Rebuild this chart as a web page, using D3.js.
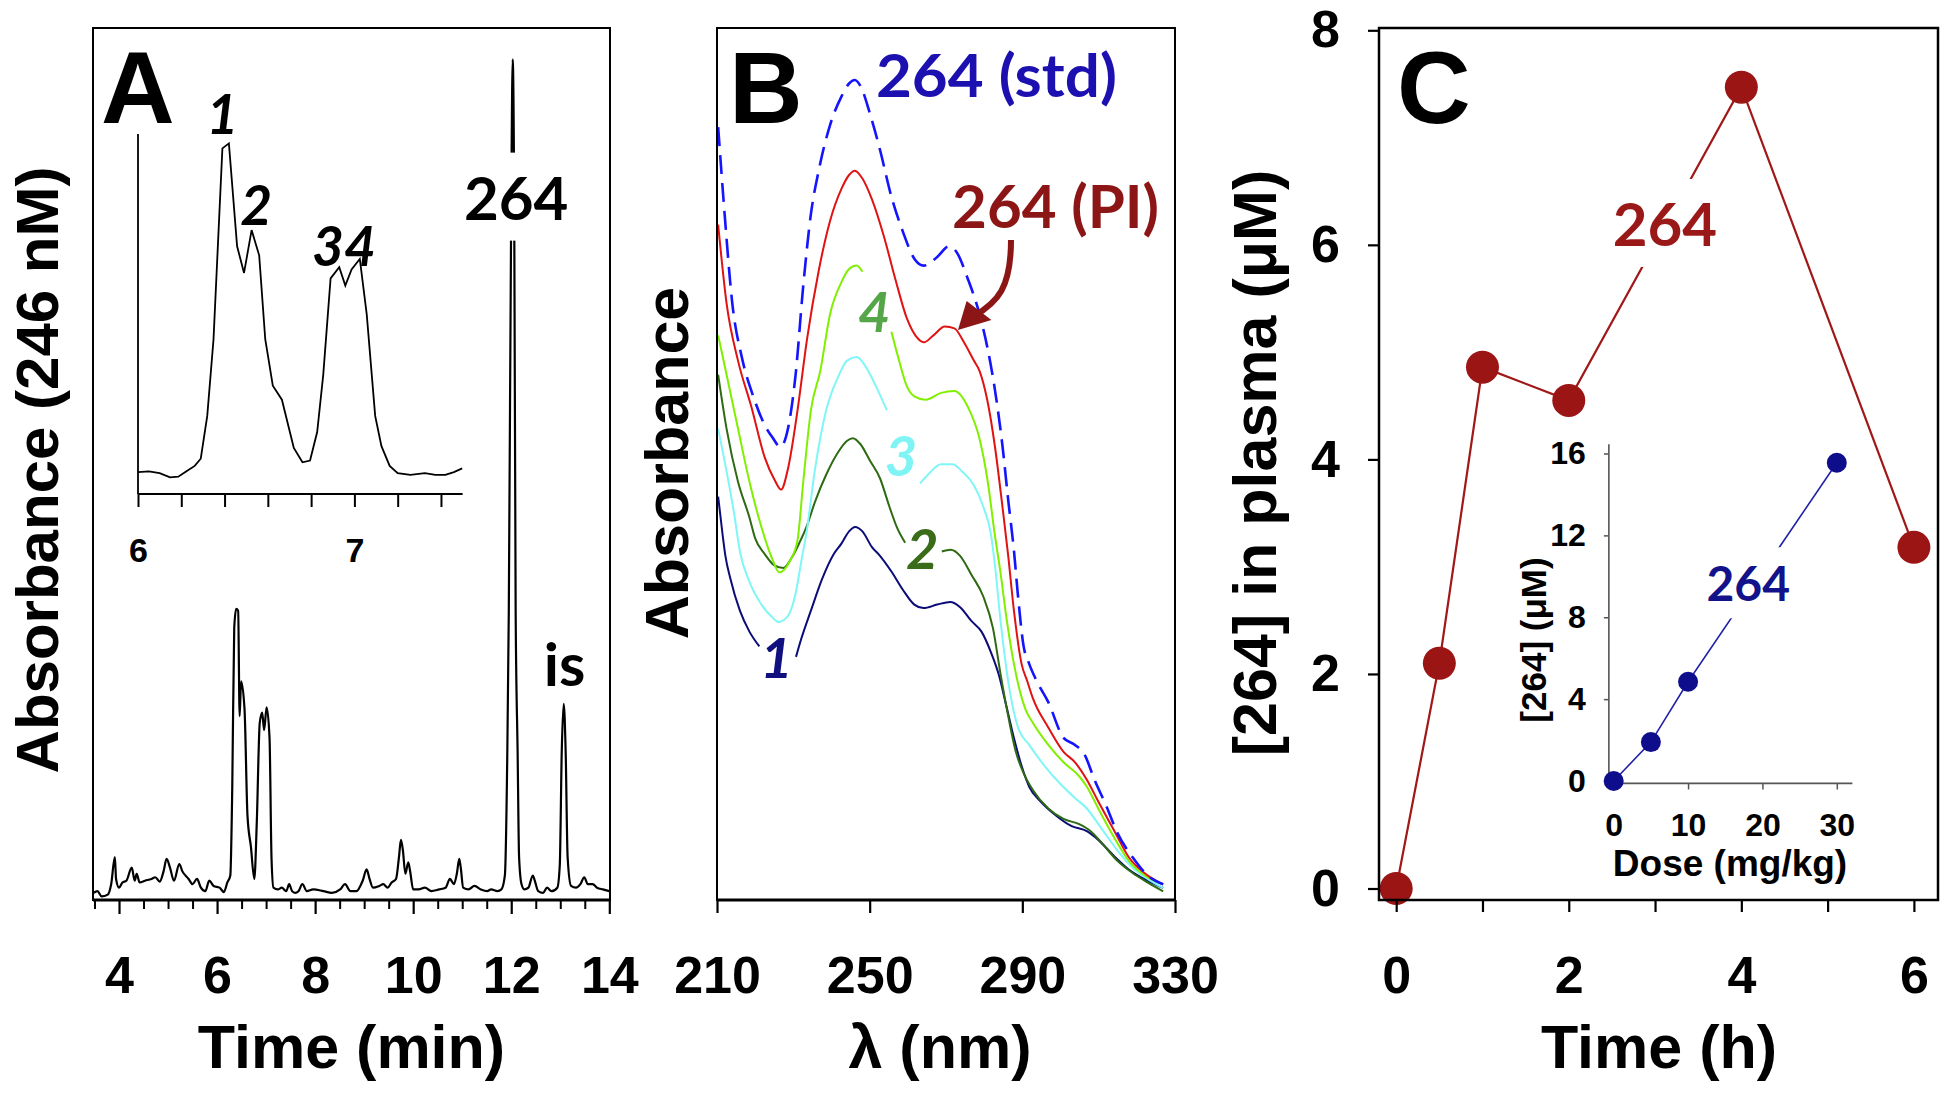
<!DOCTYPE html>
<html><head><meta charset="utf-8">
<script src="https://cdn.jsdelivr.net/npm/d3@7"></script>
<style>
body{margin:0;background:#fff}
svg{display:block}
text{font-family:"Liberation Sans",Arial,sans-serif;font-weight:bold}
.lbl{font-family:Lato,"Open Sans",sans-serif;font-weight:bold}
</style>
</head><body>
<svg id="fig" width="1950" height="1093"></svg>
<script>
// ================= DATA =================
// Panel A: HPLC chromatogram (time in min, relative absorbance)
const chromTime = [3.48,3.56,3.645,3.77,3.84,3.915,3.94,4.0,4.07,4.15,4.26,4.32,4.36,4.42,4.53,4.66,4.74,4.83,4.91,4.97,5.04,5.12,5.23,5.29,5.42,5.5,5.59,5.67,5.76,5.84,5.93,6.05,6.14,6.21,6.27,6.31,6.35,6.39,6.43,6.46,6.49,6.56,6.62,6.69,6.76,6.81,6.87,6.92,6.96,7.01,7.07,7.11,7.15,7.24,7.32,7.41,7.47,7.53,7.59,7.66,7.74,7.83,7.96,8.17,8.34,8.51,8.61,8.72,8.84,8.97,9.05,9.11,9.18,9.31,9.39,9.48,9.56,9.65,9.71,9.75,9.79,9.84,9.9,9.94,10.0,10.11,10.24,10.37,10.53,10.66,10.75,10.83,10.89,10.94,10.97,11.02,11.13,11.25,11.38,11.51,11.59,11.72,11.8,11.87,11.92,11.95,12.0,12.03,12.06,12.09,12.13,12.16,12.21,12.27,12.35,12.44,12.48,12.55,12.65,12.73,12.82,12.94,12.99,13.03,13.07,13.11,13.15,13.22,13.32,13.41,13.49,13.56,13.66,13.75,13.87,14.0];
const chromAbs  = [0.7,0.9,0.3,0.5,1.7,4.8,2.3,1.3,1.9,2.1,3.6,2.1,2.9,1.9,2.1,2.3,2.5,2.0,3.2,4.6,3.6,2.1,4.0,3.2,2.3,1.7,2.3,1.3,0.9,2.1,1.5,1.3,0.8,1.9,2.7,12.9,31.1,33.3,33.1,21.0,25.0,21.8,9.6,6.0,2.3,8.8,20.2,21.4,19.4,22.0,18.5,4.8,1.3,1.1,1.3,0.9,1.7,0.9,0.7,0.9,1.7,0.9,1.1,0.9,0.7,1.1,1.7,0.9,0.9,2.1,3.4,2.3,1.3,1.5,1.7,1.3,1.9,2.3,4.8,6.8,5.6,2.9,4.2,3.1,1.1,1.1,1.3,0.9,1.1,1.3,2.3,1.7,2.9,4.6,3.6,1.3,1.1,1.5,1.1,0.9,1.1,0.9,1.1,2.7,16.9,33,80,96.4,80,33,16.9,4.8,1.7,1.1,1.3,2.7,2.1,0.9,0.7,1.3,0.9,1.3,3.9,16.9,22.4,16.9,4.8,1.5,1.3,1.7,2.5,1.7,1.7,1.3,1.1,0.9];
const timeTicksA = [4,6,8,10,12,14];
// Panel A inset: zoom of 6-7.5 min
const insetTime = [6.0,6.05,6.1,6.148,6.186,6.224,6.262,6.29,6.32,6.349,6.39,6.42,6.458,6.49,6.525,6.56,6.588,6.623,6.665,6.72,6.76,6.795,6.828,6.856,6.89,6.93,6.958,6.987,7.025,7.057,7.096,7.125,7.163,7.2,7.259,7.326,7.374,7.42,7.46,7.498];
const insetAbs  = [6.1,6.3,5.8,4.6,4.8,6.3,7.8,9.8,21.7,43,96,97.4,68.8,61.4,73.3,66.3,43,30.1,26.2,12.8,8.8,9.3,17.2,33.1,59.9,63,57.9,62.4,65.3,49.9,21.7,13.3,7.8,5.8,5.3,5.8,5.3,5.3,6.1,7.1];
const insetTickLabels = [6,7];
const peakLabelsA = [{t:"1",x:6.39,y:100},{t:"2",x:6.546,y:74.7},{t:"34",x:6.952,y:63.3}];

// Panel B: UV spectra (wavelength nm, relative absorbance); null = gap for label
const specStd = [[210.3,88.7],[212,78.7],[214,68.5],[216.5,62.3],[219.5,57.8],[222.5,54.5],[224.5,53.1],[226.6,52.0],[228.6,54.1],[230.6,60.3],[232.6,70.5],[234.6,78.7],[236.6,83.6],[239.6,88.9],[242.6,92.2],[244.6,93.7],[246.1,94.1],[247.6,93.4],[250.1,90.2],[252.7,86.1],[255.7,80.7],[258.7,76.7],[261.7,73.6],[264.2,72.8],[267.7,73.8],[270.7,75.0],[272.7,74.4],[275.7,71.3],[278.8,67.2],[280.8,63.5],[282.8,58.6],[284.8,52.1],[286.3,45.9],[287.8,40.1],[288.8,35.2],[290.3,29.2],[291.8,27.1],[293.8,25.1],[296.8,22.7],[300.8,18.6],[303.8,17.8],[306.4,16.6],[308.9,13.8],[311.9,10.9],[314.9,7.7],[318.9,4.9],[322.9,2.8],[326.9,1.8]];
const specPlasma = [[210.3,77.5],[212.5,68.5],[215.5,61.9],[219,56.6],[222.5,50.8],[225.1,48.2],[226.8,47.1],[228.6,49.5],[231.1,56.2],[233.6,64.4],[236.6,72.1],[239.6,77.9],[242.6,81.6],[244.6,83.2],[246.1,83.7],[248.1,82.8],[250.6,80.4],[253.7,76.2],[256.7,71.3],[259.7,66.8],[262.7,64.4],[264.2,64.0],[266.7,64.8],[269.7,65.8],[272.2,65.6],[274.7,64.0],[277.3,61.9],[278.8,60.7],[280.8,57.4],[282.8,52.1],[284.8,45.1],[286.3,39.5],[287.8,33.2],[289.8,27.1],[291.3,25.1],[292.8,23.1],[296.8,19.8],[300.8,17.0],[303.8,15.8],[306.9,13.8],[309.9,11.3],[313.9,8.1],[317.9,4.9],[322.9,2.8],[326.9,1.8]];
const spec4 = [[210.3,64.8],[212.5,60.3],[215.5,54.1],[218.5,48.0],[221.5,43.0],[224.6,39.0],[226.3,37.6],[229.1,38.9],[231.1,41.3],[232.6,48.0],[234.6,56.2],[237.1,60.8],[239.6,67.2],[242.6,70.9],[244.6,72.4],[246.6,72.8],[248.1,72.1],null,[255.7,65.2],[257.7,61.9],[259.7,59.0],[261.7,57.8],[264.7,57.4],[268.7,58.2],[272.2,58.4],[275.7,56.6],[278.8,52.9],[280.8,48.4],[282.8,41.9],[284.3,37.5],[285.8,32.5],[287.8,27.1],[290.8,21.9],[292.8,20.3],[296.8,17.8],[300.8,15.8],[304.9,14.2],[306.9,13.0],[309.9,10.5],[313.9,7.3],[317.9,4.5],[322.9,2.6],[326.9,1.8]];
const spec3 = [[210.3,54.1],[212.5,49.2],[214.5,44.3],[216,40.0],[218.5,36.5],[221.5,34.0],[224.6,32.4],[226.1,31.9],[228.6,32.6],[230.6,35.2],[232.1,38.9],[233.6,42.6],[235.6,49.2],[238.6,56.2],[241.6,59.9],[244.1,61.9],[246.6,62.3],[249.1,61.1],[251.6,59.0],[254.5,56.2],null,[263.2,47.8],[265.7,49.0],[268.7,50.0],[271.7,50.0],[274.2,49.2],[277.3,47.6],[279.8,45.1],[281.8,41.9],[282.8,38.5],[284.3,32.0],[286.3,25.1],[288.8,19.9],[291.8,17.8],[295.8,15.4],[299.8,13.4],[303.8,11.7],[306.9,10.5],[310.9,8.1],[314.9,5.7],[318.9,3.7],[322.9,2.4],[326.9,1.4]];
const spec2 = [[210.3,60.3],[212.5,54.1],[215.5,48.0],[218.5,43.9],[220,41.5],[222.5,39.7],[225,38.4],[227.4,38.1],[229.6,39.3],[231.6,41.0],[233.6,43.0],[235.6,45.6],[238.6,48.8],[241.6,51.3],[244.1,52.7],[245.6,53.0],[247.6,52.3],[250.1,50.4],[252.7,48.4],[255.2,45.1],[257.2,42.7],[259.3,41.0],null,[268.9,40.0],[271.2,40.2],[273.7,39.5],[276.7,37.3],[279.8,34.8],[282.3,31.2],[284.3,25.9],[286.3,21.1],[288.3,17.0],[290.3,14.6],[292.8,12.6],[296.8,10.5],[300.8,9.3],[304.9,8.7],[307.9,7.9],[310.9,6.5],[314.9,4.5],[318.9,3.1],[322.9,2.0],[326.9,1.0]];
const spec1 = [[210.3,46.3],[211.5,41.8],[212.2,39.5],[213.5,36.9],[216,33.2],[218.5,30.8],[221.1,29.1],null,[230.7,27.9],[232.1,30.0],[234.6,33.2],[237.6,36.9],[240.6,39.7],[242.6,40.9],[244.6,42.3],[246.2,42.8],[248.1,42.3],[250.6,40.5],[252.7,39.5],[255.7,37.7],[258.7,35.6],[261.7,33.9],[264.1,33.5],[267.7,33.9],[271.1,34.2],[273.7,33.6],[276.7,32.0],[279.3,30.8],[281.8,28.4],[283.8,25.9],[285.8,22.3],[287.8,18.6],[289.8,15.4],[291.8,13.0],[294.8,11.3],[298.8,9.7],[302.8,8.5],[306.9,7.9],[309.9,6.9],[313.9,5.1],[317.9,3.5],[322.9,2.2],[326.9,1.4]];
const wavelengthTicks = [210,250,290,330];
const specLabels = [
  {t:"4",x:251.2,y:65.2,c:"#55a648"},
  {t:"3",x:258.2,y:48.7,c:"#80f4f4"},
  {t:"2",x:263.8,y:38.0,c:"#3a6c1a"},
  {t:"1",x:225.6,y:25.5,c:"#10107e"}];
const arrowPath = [[287.03,75.74],[287.03,70.2],[283.5,68.6],[277.3,67.0]];
const arrowHead = [[273.14,65.41],[275.4,68.75],[281.9,66.55]];

// Panel C: plasma concentration vs time
const pkTime = [0,0.5,1,2,4,6];
const pkConc = [0,2.1,4.86,4.55,7.47,3.18];
const pkTicksY = [0,2,4,6,8];
const pkTicksX = [0,1,2,3,4,5,6];
// Panel C inset: concentration vs dose
const doses = [0,5,10,30];
const doseConc = [0,1.9,4.85,15.55];
const doseTicks = [0,10,20,30];
const doseConcTicks = [0,4,8,12,16];

// ================= DRAW =================
const svg = d3.select("#fig");
const FB = '"Liberation Sans",Arial,sans-serif';

function styleAxis(g, size, color, width){
  g.selectAll("text").attr("font-size", size).attr("font-family", FB).attr("font-weight","bold").attr("fill","#000");
  g.selectAll(".tick line").attr("stroke", color||"#000").attr("stroke-width", width||2);
  g.select(".domain").remove();
}
function maskedLabel(g, x, y, txt, opts){
  const r = g.append("rect").attr("fill","#fff");
  const t = g.append("text").attr("class","lbl").attr("x",x).attr("y",y)
    .attr("text-anchor", opts.anchor||"middle").attr("font-size",opts.size)
    .attr("fill",opts.color||"#000").text(txt);
  if(opts.italic) t.attr("font-style","italic");
  const b = t.node().getBBox();
  const p = opts.pad||0;
  r.attr("x",b.x-(opts.padx||0)).attr("y",b.y-p).attr("width",b.width+2*(opts.padx||0)).attr("height",b.height+2*p);
  return t;
}

// ---------- Panel A ----------
const A = {left:93,right:610,top:28,bottom:900};
const xA = d3.scaleLinear().domain([3.5,14]).range([94.5,609.3]);
const yA = d3.scaleLinear().domain([0,100]).range([899,28]);
const gA = svg.append("g");
gA.append("path").datum(d3.zip(chromTime, chromAbs))
  .attr("fill","none").attr("stroke","#000").attr("stroke-width",2.2)
  .attr("d", d3.line().x(d=>xA(d[0])).y(d=>yA(d[1])).curve(d3.curveMonotoneX));
maskedLabel(gA, xA(12.1), yA(78), "264", {size:60, pad:8});
gA.append("text").attr("class","lbl").attr("x",xA(13.09)).attr("y",yA(24.5))
  .attr("text-anchor","middle").attr("font-size",60).text("is");
gA.append("rect").attr("x",A.left).attr("y",A.top).attr("width",A.right-A.left).attr("height",A.bottom-A.top)
  .attr("fill","none").attr("stroke","#000").attr("stroke-width",2);
gA.append("line").attr("x1",A.left).attr("x2",A.right).attr("y1",A.bottom).attr("y2",A.bottom).attr("stroke","#000").attr("stroke-width",3);
const axAminor = gA.append("g").attr("transform",`translate(0,${A.bottom})`)
  .call(d3.axisBottom(xA).tickValues(d3.range(3.5,14.01,0.5).filter(v=>v%2!==0)).tickSize(9).tickSizeOuter(0).tickFormat(""));
styleAxis(axAminor,0,"#000",2);
const axA = gA.append("g").attr("transform",`translate(0,${A.bottom})`)
  .call(d3.axisBottom(xA).tickValues(timeTicksA).tickSize(14).tickSizeOuter(0).tickPadding(42));
styleAxis(axA,52,"#000",2.2);
gA.append("text").attr("x",(A.left+A.right)/2).attr("y",1068).attr("text-anchor","middle").attr("font-size",61).text("Time (min)");
gA.append("text").attr("transform","translate(58,470) rotate(-90)").attr("text-anchor","middle").attr("font-size",60).text("Absorbance (246 nM)");
gA.append("text").attr("x",101).attr("y",123).attr("font-size",102).text("A");

// Panel A inset
const xAi = d3.scaleLinear().domain([6,7.5]).range([138,462.6]);
const yAi = d3.scaleLinear().domain([0,100]).range([494,134]);
const gAi = gA.append("g");
gAi.append("path").datum(d3.zip(insetTime, insetAbs))
  .attr("fill","none").attr("stroke","#000").attr("stroke-width",1.8)
  .attr("d", d3.line().x(d=>xAi(d[0])).y(d=>yAi(d[1])));
gAi.append("line").attr("x1",xAi(6)).attr("x2",xAi(6)).attr("y1",yAi(0)).attr("y2",yAi(100)).attr("stroke","#000").attr("stroke-width",1.8);
gAi.append("line").attr("x1",xAi(6)).attr("x2",xAi(7.5)).attr("y1",yAi(0)).attr("y2",yAi(0)).attr("stroke","#000").attr("stroke-width",2);
const axAi = gAi.append("g").attr("transform",`translate(0,${yAi(0)})`)
  .call(d3.axisBottom(xAi).tickValues(d3.range(6,7.41,0.2)).tickSize(13).tickSizeOuter(0).tickPadding(31)
    .tickFormat(d => insetTickLabels.some(v=>Math.abs(v-d)<1e-6) ? d3.format("d")(d) : ""));
styleAxis(axAi,34,"#000",2);
peakLabelsA.forEach(p=>{
  gAi.append("text").attr("class","lbl").attr("font-style","italic").attr("x",xAi(p.x)).attr("y",yAi(p.y))
    .attr("text-anchor","middle").attr("font-size",55).text(p.t);
});

// ---------- Panel B ----------
const B = {left:717,right:1175,top:28,bottom:900};
const xB = d3.scaleLinear().domain([210,330]).range([B.left,B.right]);
const yB = d3.scaleLinear().domain([0,100]).range([900,28.6]);
const gB = svg.append("g");
const lineB = d3.line().defined(d=>d!==null).x(d=>xB(d[0])).y(d=>yB(d[1])).curve(d3.curveMonotoneX);
const seriesB = [
  {d:spec1,c:"#0c0c78",w:2},
  {d:spec2,c:"#2d6a12",w:2},
  {d:spec3,c:"#80f6f6",w:2},
  {d:spec4,c:"#80f000",w:2},
  {d:specPlasma,c:"#e01212",w:2},
  {d:specStd,c:"#1414ff",w:2.6,dash:"19,9"}];
seriesB.forEach(s=>{
  gB.append("path").datum(s.d).attr("fill","none").attr("stroke",s.c).attr("stroke-width",s.w)
    .attr("stroke-dasharray",s.dash||null).attr("d",lineB);
});
specLabels.forEach(l=>{
  gB.append("text").attr("class","lbl").attr("font-style","italic").attr("x",xB(l.x)).attr("y",yB(l.y))
    .attr("text-anchor","middle").attr("font-size",56).attr("fill",l.c).text(l.t);
});
gB.append("text").attr("class","lbl").attr("x",xB(251.65)).attr("y",yB(92.2)).attr("font-size",60)
  .attr("fill","#1c10b0").attr("textLength",241).attr("lengthAdjust","spacingAndGlyphs").text("264 (std)");
gB.append("text").attr("class","lbl").attr("x",xB(271.6)).attr("y",yB(77.1)).attr("font-size",60)
  .attr("fill","#8c1515").attr("textLength",207).attr("lengthAdjust","spacingAndGlyphs").text("264 (PI)");
const ap = arrowPath.map(p=>[xB(p[0]),yB(p[1])]);
gB.append("path").attr("d",`M${ap[0]}C${ap[1]} ${ap[2]} ${ap[3]}`).attr("fill","none").attr("stroke","#8c1515").attr("stroke-width",6);
gB.append("path").attr("d", d3.line()(arrowHead.map(p=>[xB(p[0]),yB(p[1])])) + "Z").attr("fill","#8c1515");
gB.append("rect").attr("x",B.left).attr("y",B.top).attr("width",B.right-B.left).attr("height",B.bottom-B.top)
  .attr("fill","none").attr("stroke","#000").attr("stroke-width",2);
gB.append("line").attr("x1",B.left).attr("x2",B.right).attr("y1",B.bottom).attr("y2",B.bottom).attr("stroke","#000").attr("stroke-width",3);
const axB = gB.append("g").attr("transform",`translate(0,${B.bottom})`)
  .call(d3.axisBottom(xB).tickValues(wavelengthTicks).tickSize(13).tickSizeOuter(0).tickPadding(43));
styleAxis(axB,52,"#000",2.2);
gB.append("text").attr("x",940).attr("y",1068).attr("text-anchor","middle").attr("font-size",61).text("λ (nm)");
gB.append("text").attr("transform","translate(688,463) rotate(-90)").attr("text-anchor","middle").attr("font-size",61).text("Absorbance");
gB.append("text").attr("x",729).attr("y",123).attr("font-size",102).text("B");

// ---------- Panel C ----------
const C = {left:1379,right:1938,top:28,bottom:900};
const xC = d3.scaleLinear().domain([0,6]).range([1396.2,1913.9]);
const yC = d3.scaleLinear().domain([0,8]).range([888.5,30.3]);
const gC = svg.append("g");
gC.append("path").datum(d3.zip(pkTime,pkConc)).attr("fill","none").attr("stroke","#a01818").attr("stroke-width",2.2)
  .attr("d", d3.line().x(d=>xC(d[0])).y(d=>yC(d[1])));
maskedLabel(gC, xC(3.115), yC(5.99), "264", {size:60, pad:8, color:"#9a1818"});

// inset
const xCi = d3.scaleLinear().domain([0,30]).range([1613.7,1836.8]);
const yCi = d3.scaleLinear().domain([0,16]).range([781,453.5]);
const gCi = gC.append("g");
gCi.append("path").datum(d3.zip(doses,doseConc)).attr("fill","none").attr("stroke","#2222a8").attr("stroke-width",1.6)
  .attr("d", d3.line().x(d=>xCi(d[0])).y(d=>yCi(d[1])));
maskedLabel(gCi, xCi(18.1), yCi(8.78), "264", {size:48, pad:7, color:"#12128a"});
gCi.append("line").attr("x1",xCi(-0.65)).attr("x2",xCi(-0.65)).attr("y1",yCi(-0.12)).attr("y2",yCi(16.45)).attr("stroke","#555").attr("stroke-width",1.6);
gCi.append("line").attr("x1",xCi(-0.65)).attr("x2",xCi(32.1)).attr("y1",yCi(-0.12)).attr("y2",yCi(-0.12)).attr("stroke","#555").attr("stroke-width",1.8);
const axCix = gCi.append("g").attr("transform",`translate(0,${yCi(-0.12)})`)
  .call(d3.axisBottom(xCi).tickValues(doseTicks).tickSize(6).tickSizeOuter(0).tickPadding(24));
styleAxis(axCix,32,"#555",1.5);
const axCiy = gCi.append("g").attr("transform",`translate(${xCi(-0.65)},0)`)
  .call(d3.axisLeft(yCi).tickValues(doseConcTicks).tickSize(5).tickSizeOuter(0).tickPadding(18));
styleAxis(axCiy,32,"#555",1.5);
gCi.selectAll(".dot").data(d3.zip(doses,doseConc)).join("circle").attr("class","dot")
  .attr("cx",d=>xCi(d[0])).attr("cy",d=>yCi(d[1])).attr("r",10).attr("fill","#0e0e8c");
gCi.append("text").attr("x",1730).attr("y",876).attr("text-anchor","middle").attr("font-size",37).text("Dose (mg/kg)");
gCi.append("text").attr("transform","translate(1546,640) rotate(-90)").attr("text-anchor","middle").attr("font-size",35).text("[264] (μM)");

gC.selectAll(".pk").data(d3.zip(pkTime,pkConc)).join("circle").attr("class","pk")
  .attr("cx",d=>xC(d[0])).attr("cy",d=>yC(d[1])).attr("r",16.5).attr("fill","#9c1515");
gC.append("rect").attr("x",C.left).attr("y",C.top).attr("width",C.right-C.left).attr("height",C.bottom-C.top)
  .attr("fill","none").attr("stroke","#000").attr("stroke-width",2.5);
const axCx = gC.append("g").attr("transform",`translate(0,${C.bottom})`)
  .call(d3.axisBottom(xC).tickValues(pkTicksX).tickSize(12).tickSizeOuter(0).tickPadding(44)
    .tickFormat(d => d%2===0 ? d : ""));
styleAxis(axCx,52,"#000",2.2);
const axCy = gC.append("g").attr("transform",`translate(${C.left},0)`)
  .call(d3.axisLeft(yC).tickValues(pkTicksY).tickSize(11).tickSizeOuter(0).tickPadding(28));
styleAxis(axCy,52,"#000",2.2);
gC.append("text").attr("x",1659).attr("y",1068).attr("text-anchor","middle").attr("font-size",61).text("Time (h)");
gC.append("text").attr("transform","translate(1276,463) rotate(-90)").attr("text-anchor","middle").attr("font-size",61).text("[264] in plasma (μM)");
gC.append("text").attr("x",1397).attr("y",123).attr("font-size",102).text("C");
</script>
</body></html>
